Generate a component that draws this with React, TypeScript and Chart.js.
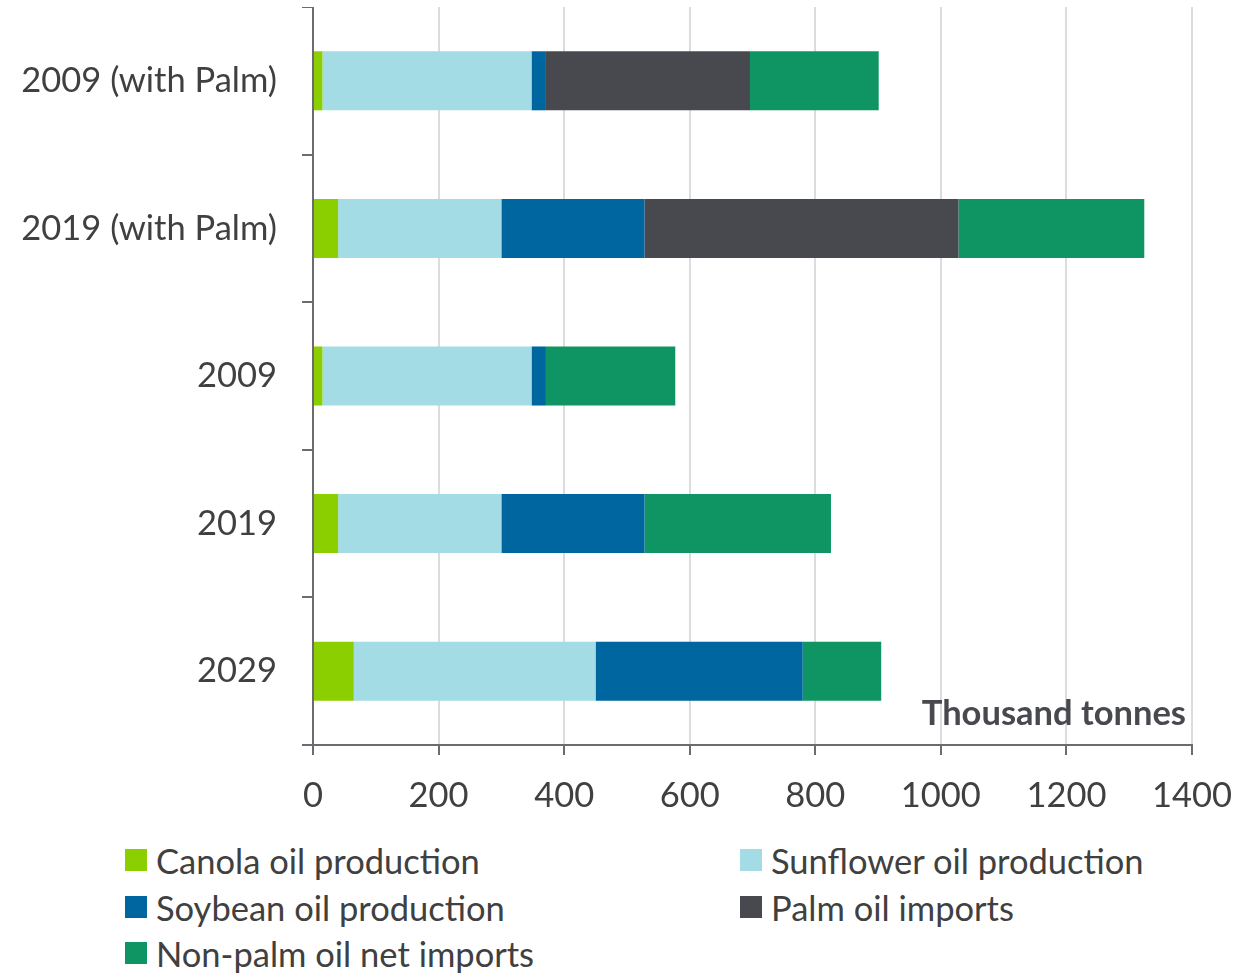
import React, { useEffect, useRef } from "react";
import { Chart, registerables } from "chart.js";

Chart.register(...registerables);

const categories = ["2009 (with Palm)", "2019 (with Palm)", "2009", "2019", "2029"];
const canola = [15, 40, 15, 40, 65];
const sunflower = [333, 260, 333, 260, 385];
const soybean = [23, 228, 23, 228, 330];
const palm = [325, 500, 0, 0, 0];
const nonPalm = [205, 296, 206, 297, 125];
const seriesNames = [
  "Canola oil production",
  "Sunflower oil production",
  "Soybean oil production",
  "Palm oil imports",
  "Non-palm oil net imports",
];
const colors = ["#8CCF00", "#A3DCE4", "#0066A0", "#48494F", "#0F9563"];
const unitLabel = "Thousand tonnes";

const FONT = "Lato, 'Open Sans', sans-serif";
const TEXT = "#404040";
const FS = 34.5;

export default function App() {
  const ref = useRef<HTMLCanvasElement>(null);
  useEffect(() => {
    document.body.style.margin = "0";
    const values = [canola, sunflower, soybean, palm, nonPalm];
    const unitPlugin = {
      id: "unitLabel",
      afterDraw(chart: any) {
        const { ctx, chartArea } = chart;
        ctx.save();
        ctx.font = `bold ${FS}px ${FONT}`;
        ctx.fillStyle = "#48494F";
        ctx.textAlign = "right";
        ctx.textBaseline = "alphabetic";
        ctx.fillText(unitLabel, chartArea.right - 6, chartArea.bottom - 20);
        ctx.restore();
      },
    };
    const make = () =>
      new Chart(ref.current!, {
        type: "bar",
        data: {
          labels: categories,
          datasets: values.map((v, i) => ({
            label: seriesNames[i],
            data: v,
            backgroundColor: colors[i],
            borderWidth: 0,
            categoryPercentage: 1,
            barPercentage: 0.4,
          })),
        },
        options: {
          indexAxis: "y",
          animation: false,
          responsive: false,
          layout: { padding: { left: 0, right: 54, top: 0, bottom: 0 } },
          plugins: { legend: { display: false }, tooltip: { enabled: false } },
          scales: {
            x: {
              stacked: true,
              min: 0,
              max: 1400,
              ticks: {
                stepSize: 200,
                color: TEXT,
                font: { family: FONT, size: FS },
                padding: 20,
                callback: (v: any) => String(v),
              },
              grid: { color: "#DCDCDF", lineWidth: 2, tickLength: 10, tickColor: "#6B6B70" },
              border: { color: "#6B6B70", width: 2 },
              afterFit: (s: any) => {
                s.height = 85;
                s.paddingRight = 0;
                s.paddingLeft = 0;
              },
            },
            y: {
              stacked: true,
              ticks: { color: TEXT, font: { family: FONT, size: FS }, padding: 25 },
              grid: { drawOnChartArea: false, tickLength: 11, tickColor: "#6B6B70", lineWidth: 2, offset: true },
              border: { color: "#6B6B70", width: 2 },
              afterFit: (s: any) => {
                s.width = 313;
                s.paddingTop = 0;
                s.paddingBottom = 0;
              },
            },
          },
        },
        plugins: [unitPlugin],
      });
    const canvas = ref.current!;
    canvas.width = 1246;
    canvas.height = 830;
    let chart = make();
    const shift = Math.round(chart.chartArea.top - 7);
    if (shift !== 0) {
      chart.destroy();
      canvas.width = 1246;
      canvas.height = 830 + shift;
      canvas.style.width = "1246px";
      canvas.style.height = `${830 + shift}px`;
      canvas.style.top = `${-shift}px`;
      chart = make();
    }
    return () => chart.destroy();
  }, []);

  const legendPos = [
    { x: 125, y: 838 },
    { x: 740, y: 838 },
    { x: 125, y: 885 },
    { x: 740, y: 885 },
    { x: 125, y: 931 },
  ];

  return (
    <div style={{ position: "relative", width: 1246, height: 974, background: "#fff", overflow: "hidden" }}>
      <canvas ref={ref} style={{ position: "absolute", left: 0, top: 0 }} />
      {seriesNames.map((n, i) => (
        <div
          key={n}
          style={{
            position: "absolute",
            left: legendPos[i].x,
            top: legendPos[i].y,
            height: 44,
            display: "flex",
            alignItems: "center",
            fontFamily: FONT,
            fontSize: FS,
            color: TEXT,
            whiteSpace: "nowrap",
          }}
        >
          <span style={{ display: "inline-block", width: 22, height: 22, background: colors[i], marginRight: 9 }} />
          {n}
        </div>
      ))}
    </div>
  );
}
